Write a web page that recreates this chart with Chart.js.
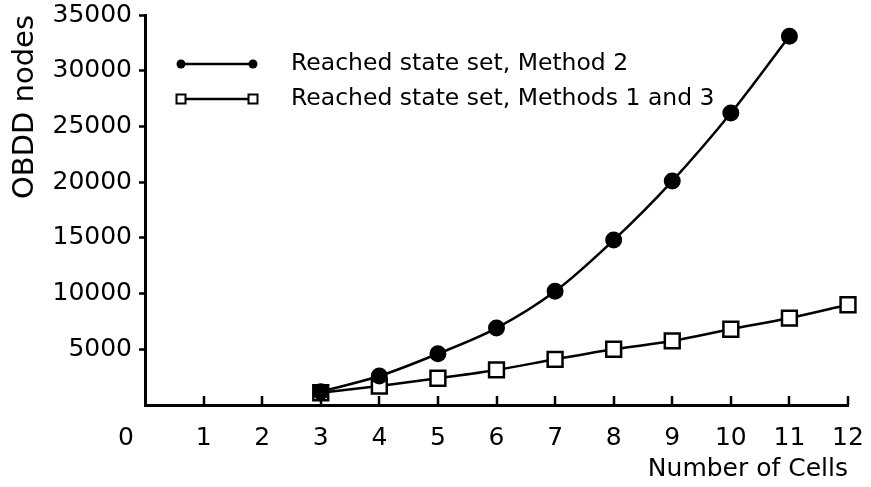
<!DOCTYPE html>
<html>
<head>
<meta charset="utf-8">
<script src="https://cdn.jsdelivr.net/npm/chart.js@4.4.0/dist/chart.umd.min.js"></script>
<style>
  html, body { margin: 0; padding: 0; background: #fff; }
  #wrap { width: 871px; height: 487px; position: relative; }
</style>
</head>
<body>
<div id="wrap"><canvas id="chart"></canvas></div>
<script>
// number of cells on the x axis
const cells = [3, 4, 5, 6, 7, 8, 9, 10, 11, 12];
// OBDD node counts
const method2 = [1200, 2600, 4600, 6900, 10200, 14800, 20100, 26200, 33100];
const methods13 = [1100, 1700, 2400, 3150, 4100, 5000, 5750, 6800, 7800, 9000];
const seriesNames = ["Reached state set, Method 2", "Reached state set, Methods 1 and 3"];
const xTicks = [0, 1, 2, 3, 4, 5, 6, 7, 8, 9, 10, 11, 12];
const yTicks = [0, 5000, 10000, 15000, 20000, 25000, 30000, 35000];

const FONT = "'DejaVu Sans', sans-serif";
const toPoints = (vals) => vals.map((v, i) => ({ x: cells[i], y: v }));

// ticks drawn inward on the x axis, the detached "0" and the in-plot legend
const decorations = {
  id: "decorations",
  afterDraw(chart) {
    const ctx = chart.ctx;
    const xs = chart.scales.x;
    const bottom = chart.chartArea.bottom;
    ctx.save();
    ctx.strokeStyle = "#000";
    ctx.lineWidth = 2.5;
    xTicks.slice(1).forEach((v) => {
      const px = Math.round(xs.getPixelForValue(v));
      ctx.beginPath();
      ctx.moveTo(px, bottom);
      ctx.lineTo(px, bottom - 9);
      ctx.stroke();
    });

    ctx.fillStyle = "#000";
    ctx.font = "25px " + FONT;
    ctx.textAlign = "center";
    ctx.textBaseline = "middle";
    ctx.fillText("0", xs.getPixelForValue(0) - 19, 438);

    // legend
    const rows = [
      { y: 64, ds: chart.data.datasets[0] },
      { y: 99, ds: chart.data.datasets[1] },
    ];
    rows.forEach((r) => {
      ctx.lineWidth = 2.5;
      ctx.strokeStyle = "#000";
      ctx.beginPath();
      ctx.moveTo(181, r.y);
      ctx.lineTo(253, r.y);
      ctx.stroke();
      [181, 253].forEach((mx) => {
        ctx.beginPath();
        if (r.ds.pointStyle === "circle") {
          ctx.arc(mx, r.y, 4.5, 0, Math.PI * 2);
          ctx.fillStyle = "#000";
          ctx.fill();
        } else {
          ctx.lineWidth = 2;
          ctx.rect(mx - 4.5, r.y - 4.5, 9, 9);
          ctx.fillStyle = "#fff";
          ctx.fill();
          ctx.stroke();
        }
      });
      ctx.fillStyle = "#000";
      ctx.font = "23.5px " + FONT;
      ctx.textAlign = "left";
      ctx.textBaseline = "middle";
      ctx.fillText(r.ds.label, 291, r.y);
    });
    ctx.restore();
  },
};

new Chart(document.getElementById("chart"), {
  type: "line",
  plugins: [decorations],
  data: {
    datasets: [
      {
        label: seriesNames[0],
        data: toPoints(method2),
        borderColor: "#000",
        borderWidth: 2.5,
        tension: 0.4,
        cubicInterpolationMode: "monotone",
        pointStyle: "circle",
        pointRadius: 7.5,
        pointBorderWidth: 2,
        pointBackgroundColor: "#000",
        pointBorderColor: "#000",
        fill: false,
        clip: false,
      },
      {
        label: seriesNames[1],
        data: toPoints(methods13),
        borderColor: "#000",
        borderWidth: 2.5,
        tension: 0.4,
        cubicInterpolationMode: "monotone",
        pointStyle: "rect",
        pointRadius: 10.5,
        pointBorderWidth: 2.5,
        pointBackgroundColor: "#fff",
        pointBorderColor: "#000",
        fill: false,
        clip: false,
      },
    ],
  },
  options: {
    responsive: true,
    maintainAspectRatio: false,
    animation: false,
    layout: { padding: { top: 15, right: 23, bottom: 0, left: 0 } },
    plugins: {
      legend: { display: false },
      tooltip: { enabled: false },
    },
    scales: {
      x: {
        type: "linear",
        min: 0,
        max: 12,
        afterBuildTicks: (scale) => { scale.ticks = xTicks.map((v) => ({ value: v })); },
        afterFit: (scale) => {
          scale.height = 82;
          scale.paddingRight = 0;
          scale.paddingLeft = 0;
        },
        grid: { display: true, drawOnChartArea: false, drawTicks: false },
        border: { display: true, color: "#000", width: 3 },
        ticks: {
          color: "#000",
          font: { family: FONT, size: 25 },
          padding: 18,
          maxRotation: 0,
          autoSkip: false,
          callback: (v) => (v === 0 ? "" : String(v)),
        },
        title: {
          display: true,
          text: "Number of Cells",
          align: "end",
          color: "#000",
          font: { family: FONT, size: 25 },
          padding: { top: 0, bottom: 3 },
        },
      },
      y: {
        min: 0,
        max: 35000,
        afterBuildTicks: (scale) => { scale.ticks = yTicks.map((v) => ({ value: v })); },
        afterFit: (scale) => {
          scale.width = 145;
          scale.paddingTop = 0;
          scale.paddingBottom = 0;
        },
        grid: {
          display: true,
          drawOnChartArea: false,
          drawTicks: true,
          tickLength: 6,
          tickWidth: 2.5,
          tickColor: (c) => (c.tick && c.tick.value === 0 ? "rgba(0,0,0,0)" : "#000"),
        },
        border: { display: true, color: "#000", width: 3 },
        ticks: {
          color: "#000",
          font: { family: FONT, size: 25 },
          padding: 7,
          autoSkip: false,
          callback: (v) => (v === 0 ? "" : String(v)),
        },
        title: {
          display: true,
          text: "OBDD nodes",
          align: "end",
          color: "#000",
          font: { family: FONT, size: 29 },
          padding: { top: 8, bottom: 0 },
        },
      },
    },
  },
});
</script>
</body>
</html>
